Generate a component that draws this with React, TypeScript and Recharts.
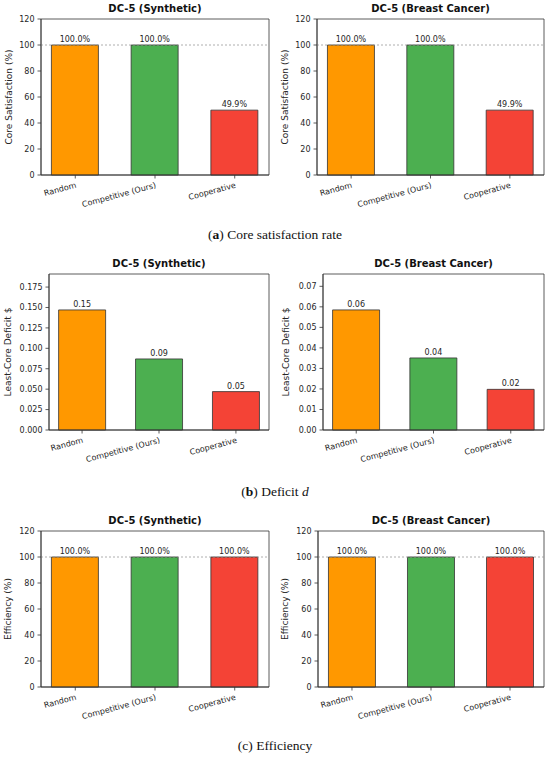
import React from "react";
import {
  Bar,
  BarChart,
  CartesianGrid,
  Cell,
  LabelList,
  ReferenceLine,
  XAxis,
  YAxis
} from "recharts";

const categories = ["Random", "Competitive (Ours)", "Cooperative"];
const barColors = ["#FF9800", "#4CAF50", "#F44336"];

const coreSynthetic = [100, 100, 49.9];
const coreBreast = [100, 100, 49.9];
const deficitSynthetic = [0.147, 0.087, 0.047];
const deficitBreast = [0.0585, 0.0351, 0.0198];
const effSynthetic = [100, 100, 100];
const effBreast = [100, 100, 100];

const percentTicks = [0, 20, 40, 60, 80, 100, 120];
const deficitSynTicks = [0, 0.025, 0.05, 0.075, 0.1, 0.125, 0.15, 0.175];
const deficitBreastTicks = [0, 0.01, 0.02, 0.03, 0.04, 0.05, 0.06, 0.07];

const FONT = "'DejaVu Sans', sans-serif";
const INK = "#262626";
const EDGE = "#333333";

const pct = (v: number) => `${v.toFixed(1)}%`;
const two = (v: number) => v.toFixed(2);
const three = (v: number) => v.toFixed(3);

function XTick({ x, y, payload }: any) {
  return (
    <g transform={`translate(${x + 1.5},${y + 7}) rotate(-15)`}>
      <text x={0} y={0} textAnchor="end" fontSize={8} fill={INK} fontFamily={FONT}>
        {categories[payload.value]}
      </text>
    </g>
  );
}

// frame lines: the edges of the plot area
const frameH = ({ offset }: any) => [offset.top, offset.top + offset.height];
const frameV = ({ offset }: any) => [offset.left, offset.left + offset.width];

type PanelProps = {
  title: string;
  yLabel: string;
  values: number[];
  domain: [number, number];
  ticks: number[];
  tickFmt: (v: number) => string;
  labelFmt: (v: number) => string;
  refLine: boolean;
  left: number;
  plotTop: number;
  yAxisW: number;
  labelX: number;
};

function Panel(p: PanelProps) {
  const data = p.values.map((v, i) => ({ idx: i, value: v }));
  const width = 275;
  const plotW = width - p.yAxisW - 6;
  const spine = { stroke: EDGE, strokeWidth: 0.8 };
  return (
    <>
      <div
        style={{
          position: "absolute",
          left: p.left + p.yAxisW,
          top: p.plotTop - 17,
          width: plotW,
          textAlign: "center",
          fontFamily: FONT,
          fontWeight: "bold",
          fontSize: 10,
          lineHeight: "14px",
          color: "#111"
        }}
      >
        {p.title}
      </div>
      <div style={{ position: "absolute", left: p.left, top: p.plotTop - 20 }}>
        <BarChart
          width={width}
          height={216}
          data={data}
          margin={{ top: 20, right: 6, bottom: 0, left: 0 }}
          style={{ fontFamily: FONT }}
        >
          <CartesianGrid
            stroke={EDGE}
            strokeWidth={0.8}
            horizontalCoordinatesGenerator={frameH}
            verticalCoordinatesGenerator={frameV}
          />
          <XAxis
            dataKey="idx"
            type="number"
            domain={[-0.43, 2.43]}
            ticks={[0, 1, 2]}
            interval={0}
            height={40}
            tickSize={3.5}
            tickMargin={2}
            tick={<XTick />}
            axisLine={spine}
            tickLine={spine}
          />
          <YAxis
            type="number"
            domain={p.domain}
            ticks={p.ticks}
            interval={0}
            width={p.yAxisW}
            tickSize={3.5}
            tickMargin={3}
            tickFormatter={p.tickFmt}
            tick={{ fontSize: 8, fill: INK }}
            axisLine={spine}
            tickLine={spine}
            label={{
              value: p.yLabel,
              content: (lp: any) => {
                const vb = lp.viewBox || { x: 0, y: 20, height: 156 };
                const cx = vb.x + p.labelX;
                const cy = vb.y + vb.height / 2;
                return (
                  <text
                    x={cx}
                    y={cy}
                    transform={`rotate(-90, ${cx}, ${cy})`}
                    textAnchor="middle"
                    dominantBaseline="central"
                    fontSize={9}
                    fill={INK}
                    fontFamily={FONT}
                  >
                    {p.yLabel}
                  </text>
                );
              }
            }}
          />
          {p.refLine && (
            <ReferenceLine
              y={100}
              stroke="#999999"
              strokeWidth={0.8}
              strokeDasharray="2 2"
            />
          )}
          <Bar
            dataKey="value"
            barSize={47}
            stroke={EDGE}
            strokeWidth={0.8}
            isAnimationActive={false}
          >
            {data.map((d) => (
              <Cell key={d.idx} fill={barColors[d.idx]} />
            ))}
            <LabelList
              dataKey="value"
              position="top"
              offset={3}
              formatter={(v: any) => p.labelFmt(Number(v))}
              style={{ fontSize: 8, fill: INK, fontFamily: FONT }}
            />
          </Bar>
        </BarChart>
      </div>
    </>
  );
}

function Caption({ top, children }: { top: number; children: React.ReactNode }) {
  return (
    <div
      style={{
        position: "absolute",
        left: 0,
        top,
        width: 550,
        textAlign: "center",
        fontFamily: "'Liberation Serif', 'DejaVu Serif', serif",
        fontSize: 13.5,
        lineHeight: "16px",
        color: "#111"
      }}
    >
      {children}
    </div>
  );
}

export default function App() {
  return (
    <div
      style={{
        position: "absolute",
        left: 0,
        top: 0,
        width: 550,
        height: 758,
        background: "#fff",
        overflow: "hidden"
      }}
    >
      <Panel
        title="DC-5 (Synthetic)"
        yLabel="Core Satisfaction (%)"
        values={coreSynthetic}
        domain={[0, 120]}
        ticks={percentTicks}
        tickFmt={(v) => String(v)}
        labelFmt={pct}
        refLine
        left={0}
        plotTop={19}
        yAxisW={41}
        labelX={9}
      />
      <Panel
        title="DC-5 (Breast Cancer)"
        yLabel="Core Satisfaction (%)"
        values={coreBreast}
        domain={[0, 120]}
        ticks={percentTicks}
        tickFmt={(v) => String(v)}
        labelFmt={pct}
        refLine
        left={275}
        plotTop={19}
        yAxisW={42}
        labelX={10}
      />
      <Caption top={227}>
        (<b>a</b>) Core satisfaction rate
      </Caption>

      <Panel
        title="DC-5 (Synthetic)"
        yLabel="Least-Core Deficit $"
        values={deficitSynthetic}
        domain={[0, 0.191]}
        ticks={deficitSynTicks}
        tickFmt={three}
        labelFmt={two}
        refLine={false}
        left={0}
        plotTop={274}
        yAxisW={49}
        labelX={8}
      />
      <Panel
        title="DC-5 (Breast Cancer)"
        yLabel="Least-Core Deficit $"
        values={deficitBreast}
        domain={[0, 0.076]}
        ticks={deficitBreastTicks}
        tickFmt={two}
        labelFmt={two}
        refLine={false}
        left={275}
        plotTop={274}
        yAxisW={48}
        labelX={11}
      />
      <Caption top={484}>
        (<b>b</b>) Deficit <i>d</i>
      </Caption>

      <Panel
        title="DC-5 (Synthetic)"
        yLabel="Efficiency (%)"
        values={effSynthetic}
        domain={[0, 120]}
        ticks={percentTicks}
        tickFmt={(v) => String(v)}
        labelFmt={pct}
        refLine
        left={0}
        plotTop={531}
        yAxisW={41}
        labelX={8}
      />
      <Panel
        title="DC-5 (Breast Cancer)"
        yLabel="Efficiency (%)"
        values={effBreast}
        domain={[0, 120]}
        ticks={percentTicks}
        tickFmt={(v) => String(v)}
        labelFmt={pct}
        refLine
        left={275}
        plotTop={531}
        yAxisW={43}
        labelX={10}
      />
      <Caption top={738}>(c) Efficiency</Caption>
    </div>
  );
}
